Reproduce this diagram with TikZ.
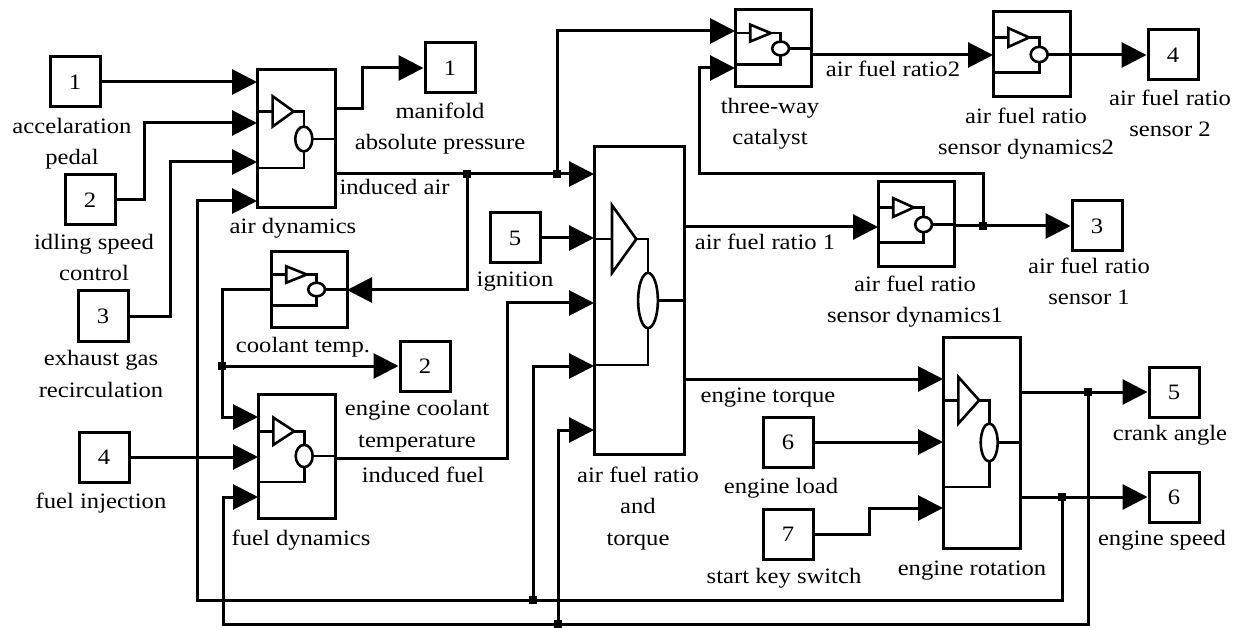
\documentclass[tikz,border=0pt]{standalone}
\usepackage{fontspec}
\setmainfont{Liberation Serif}[FakeStretch=1.12]
\usetikzlibrary{arrows.meta}

\newcommand{\sysblock}[5]{%
  \node[blk,minimum width={(#4-#2)*1pt},minimum height={(#5-#3)*1pt}] (#1) at ({(#2+#4)/2},{(#3+#5)/2}) {};
  \begin{scope}[shift={(#2,#3)},xscale=#4-#2,yscale=#5-#3]
    \draw[icon] (0,0.3) -- (0.2,0.3);
    \draw[icon] (0.2,0.19) -- (0.47,0.3) -- (0.2,0.41) -- cycle;
    \draw[icon] (0.47,0.3) -| (0.6,0.41);
    \draw[icon] (0.6,0.5) ellipse [x radius=0.11,y radius=0.09];
    \draw[icon] (0.71,0.5) -- (1,0.5);
    \draw[icon] (0.6,0.59) |- (0,0.71);
  \end{scope}}

\begin{document}
\begin{tikzpicture}[x=1pt,y=-1pt,line width=3pt,
  every node/.style={font=\fontsize{22}{31.5}\selectfont},
  port/.style={draw,minimum size=50pt,inner sep=0pt},
  blk/.style={draw,inner sep=0pt,outer sep=0pt},
  icon/.style={line width=2.6pt,line join=miter},
  sig/.style={-{Triangle[length=25pt,width=25pt]}},
  lbl/.style={anchor=base,align=center,inner sep=0pt}]
\useasboundingbox (0,0) rectangle (1242,628);

\node[port] (in1) at (75,82) {1};
\node[port] (in2) at (90,200) {2};
\node[port] (in3) at (103,316) {3};
\node[port] (in4) at (104,457) {4};
\node[port] (in5) at (515,238) {5};
\node[port] (in6) at (788,442) {6};
\node[port] (in7) at (788,534) {7};
\node[port] (out1) at (450,68) {1};
\node[port] (out2) at (425,366) {2};
\node[port] (out3) at (1097,226) {3};
\node[port] (out4) at (1173,55) {4};
\node[port] (out5) at (1174,392) {5};
\node[port] (out6) at (1174,497) {6};

\sysblock{airdyn}{257}{70}{335}{208}
\sysblock{cool}{271}{252}{347}{327}
\sysblock{fueldyn}{258}{394}{335}{518}
\sysblock{afr}{594}{147}{684}{454}
\sysblock{tw}{735}{10}{811}{87}
\sysblock{sd1}{878}{182}{954}{267}
\sysblock{sd2}{993}{12}{1070}{97}
\sysblock{rot}{943}{337}{1020}{548}

\coordinate (k2) at (144,123);
\coordinate (k3) at (170,162);
\coordinate (k4) at (197,201);
\coordinate (k5) at (362,68);
\coordinate (k6) at (223,497);
\coordinate (k7) at (507,303);
\coordinate (k8) at (699,174);
\coordinate (k9) at (869,508);
\coordinate (ji1) at (467,174);
\coordinate (ji2) at (557,174);
\coordinate (jc) at (222,366);
\coordinate (j3) at (983,226);
\coordinate (j5) at (1088,392);
\coordinate (j6) at (1062,497);
\coordinate (ja) at (533,600);
\coordinate (jb) at (558,624);

\draw[sig] (in1) -- (in1 -| airdyn.west);
\draw[sig] (in2) -| (k2) -- (k2 -| airdyn.west);
\draw[sig] (in3) -| (k3) -- (k3 -| airdyn.west);
\draw[sig] (j6) |- (ja) -| (k4) -- (k4 -| airdyn.west);
\draw[sig] (ja) |- (afr.west |- 0,366);
\draw[sig] (airdyn.east |- 0,109) -| (k5) -- (out1);
\draw[sig] (airdyn.east |- 0,174) -- (afr.west |- 0,174);
\draw[sig] (ji1) |- (cool.east |- 0,290);
\draw (cool.west |- 0,290) -| (jc);
\draw[sig] (jc) -- (out2);
\draw[sig] (jc) |- (fueldyn.west |- 0,417);
\draw[sig] (in4) -- (in4 -| fueldyn.west);
\draw[sig] (j5) |- (jb) -| (k6) -- (k6 -| fueldyn.west);
\draw[sig] (jb) |- (afr.west |- 0,430);
\draw[sig] (fueldyn.east |- 0,458) -| (k7) -- (k7 -| afr.west);
\draw[sig] (in5) -- (in5 -| afr.west);
\draw[sig] (ji2) |- (tw.west |- 0,31);
\draw[sig] (afr.east |- 0,227) -- (sd1.west |- 0,227);
\draw[sig] (sd1.east |- out3) -- (out3);
\draw[sig] (j3) |- (k8) |- (tw.west |- 0,68);
\draw[sig] (tw.east |- 0,55) -- (sd2.west |- 0,55);
\draw[sig] (sd2.east |- 0,55) -- (out4);
\draw[sig] (afr.east |- 0,379) -- (rot.west |- 0,379);
\draw[sig] (in6) -- (in6 -| rot.west);
\draw[sig] (in7) -| (k9) -- (k9 -| rot.west);
\draw[sig] (rot.east |- out5) -- (out5);
\draw[sig] (rot.east |- out6) -- (out6);
\foreach \j in {ji1,ji2,jc,j3,j5,j6,ja,jb}
  \fill (\j) +(-4,-4) rectangle +(4,4);

\node[lbl] at (72,165) {accelaration\\pedal};
\node[lbl] at (94,281) {idling speed\\control};
\node[lbl] at (101,397) {exhaust gas\\recirculation};
\node[lbl] at (101,508) {fuel injection};
\node[lbl] at (440,150) {manifold\\absolute pressure};
\node[lbl] at (293,234) {air dynamics};
\node[lbl,anchor=base west] at (338,195) {induced air};
\node[lbl] at (303,352) {coolant temp.};
\node[lbl] at (417,447) {engine coolant\\temperature};
\node[lbl] at (423,482) {induced fuel};
\node[lbl] at (301,545) {fuel dynamics};
\node[lbl] at (515,287) {ignition};
\node[lbl] at (638,545) {air fuel ratio\\and\\torque};
\node[lbl] at (765,250) {air fuel ratio 1};
\node[lbl] at (915,323) {air fuel ratio\\sensor dynamics1};
\node[lbl] at (1089,305) {air fuel ratio\\sensor 1};
\node[lbl] at (770,145) {three-way\\catalyst};
\node[lbl] at (893,77) {air fuel ratio2};
\node[lbl] at (1026,155) {air fuel ratio\\sensor dynamics2};
\node[lbl] at (1170,137) {air fuel ratio\\sensor 2};
\node[lbl] at (768,402) {engine torque};
\node[lbl] at (781,493) {engine load};
\node[lbl] at (784,583) {start key switch};
\node[lbl] at (972,575) {engine rotation};
\node[lbl] at (1170,440) {crank angle};
\node[lbl] at (1162,545) {engine speed};
\end{tikzpicture}
\end{document}
